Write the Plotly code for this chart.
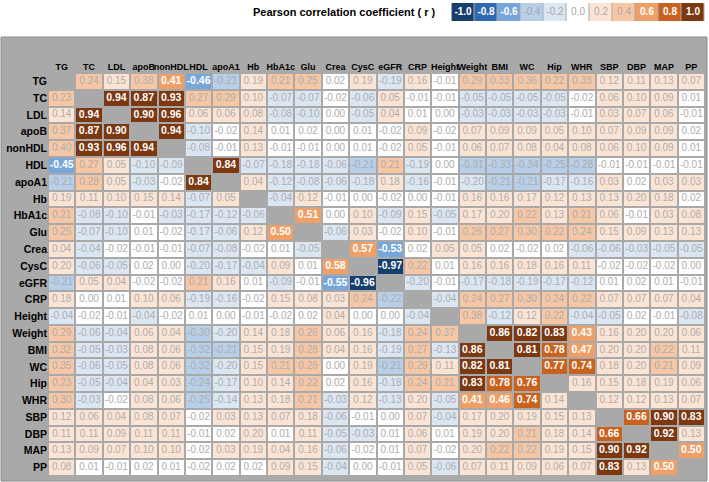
import math
import plotly.graph_objects as go

labels = ["TG", "TC", "LDL", "apoB", "nonHDL", "HDL", "apoA1", "Hb", "HbA1c", "Glu", "Crea", "CysC",
          "eGFR", "CRP", "Height", "Weight", "BMI", "WC", "Hip", "WHR", "SBP", "DBP", "MAP", "PP"]

# one row per variable, None on the diagonal
row_TG = [None, 0.24, 0.15, 0.38, 0.41, -0.46, -0.21, 0.19, 0.21, 0.25, 0.02, 0.19, -0.19, 0.16, -0.01, 0.29, 0.33, 0.36, 0.22, 0.33, 0.12, 0.11, 0.13, 0.07]
row_TC = [0.23, None, 0.94, 0.87, 0.93, 0.27, 0.29, 0.10, -0.07, -0.07, -0.02, -0.06, 0.05, -0.01, -0.01, -0.05, -0.05, -0.05, -0.05, -0.02, 0.06, 0.10, 0.09, 0.01]
row_LDL = [0.14, 0.94, None, 0.90, 0.96, 0.06, 0.06, 0.08, -0.08, -0.10, 0.00, -0.05, 0.04, 0.01, 0.00, -0.03, -0.03, -0.03, -0.03, -0.01, 0.03, 0.07, 0.06, -0.01]
row_apoB = [0.37, 0.87, 0.90, None, 0.94, -0.10, -0.02, 0.14, 0.01, 0.02, 0.00, 0.01, -0.02, 0.09, -0.02, 0.07, 0.09, 0.09, 0.05, 0.10, 0.07, 0.09, 0.09, 0.02]
row_nonHDL = [0.40, 0.93, 0.96, 0.94, None, -0.08, -0.01, 0.13, -0.01, -0.01, 0.00, 0.01, -0.02, 0.05, -0.01, 0.06, 0.07, 0.08, 0.04, 0.08, 0.06, 0.10, 0.09, 0.01]
row_HDL = [-0.45, 0.27, 0.05, -0.10, -0.09, None, 0.84, -0.07, -0.18, -0.18, -0.06, -0.21, 0.21, -0.19, 0.00, -0.31, -0.33, -0.34, -0.25, -0.28, -0.01, -0.01, -0.01, -0.01]
row_apoA1 = [-0.21, 0.28, 0.05, -0.03, -0.02, 0.84, None, 0.04, -0.12, -0.08, -0.06, -0.18, 0.18, -0.16, -0.01, -0.20, -0.21, -0.21, -0.17, -0.16, 0.03, 0.02, 0.03, 0.03]
row_Hb = [0.19, 0.11, 0.10, 0.15, 0.14, -0.07, 0.05, None, -0.04, 0.12, -0.01, 0.00, -0.02, 0.00, -0.01, 0.16, 0.16, 0.17, 0.12, 0.13, 0.13, 0.20, 0.18, 0.02]
row_HbA1c = [0.21, -0.08, -0.10, -0.01, -0.03, -0.17, -0.12, -0.06, None, 0.51, 0.00, 0.10, -0.09, 0.15, -0.05, 0.17, 0.20, 0.22, 0.13, 0.21, 0.06, -0.01, 0.03, 0.08]
row_Glu = [0.25, -0.07, -0.10, 0.01, -0.02, -0.17, -0.06, 0.12, 0.50, None, -0.06, 0.03, -0.02, 0.10, -0.01, 0.26, 0.27, 0.30, 0.22, 0.24, 0.15, 0.09, 0.13, 0.13]
row_Crea = [0.04, -0.04, -0.02, -0.01, -0.01, -0.07, -0.08, -0.02, 0.01, -0.05, None, 0.57, -0.53, 0.02, 0.05, 0.05, 0.02, -0.02, 0.02, -0.06, -0.06, -0.03, -0.05, -0.05]
row_CysC = [0.20, -0.06, -0.05, 0.02, 0.00, -0.20, -0.17, -0.04, 0.09, 0.01, 0.58, None, -0.97, 0.22, 0.01, 0.16, 0.16, 0.18, 0.16, 0.11, -0.02, -0.02, -0.02, 0.00]
row_eGFR = [-0.21, 0.05, 0.04, -0.02, -0.02, 0.21, 0.16, 0.01, -0.09, -0.01, -0.55, -0.96, None, -0.20, -0.01, -0.17, -0.18, -0.19, -0.17, -0.12, 0.01, 0.02, 0.01, -0.01]
row_CRP = [0.18, 0.00, 0.01, 0.10, 0.06, -0.19, -0.16, -0.02, 0.15, 0.08, 0.03, 0.24, -0.22, None, -0.04, 0.24, 0.27, 0.30, 0.24, 0.22, 0.07, 0.07, 0.07, 0.04]
row_Height = [-0.04, -0.02, -0.01, -0.04, -0.02, 0.01, 0.00, -0.01, -0.02, 0.02, 0.04, 0.00, 0.00, -0.04, None, 0.38, -0.12, 0.12, 0.22, -0.04, -0.05, 0.02, -0.01, -0.08]
row_Weight = [0.29, -0.06, -0.04, 0.06, 0.04, -0.30, -0.20, 0.14, 0.18, 0.26, 0.06, 0.16, -0.18, 0.24, 0.37, None, 0.86, 0.82, 0.83, 0.43, 0.16, 0.20, 0.20, 0.06]
row_BMI = [0.32, -0.05, -0.03, 0.08, 0.06, -0.32, -0.21, 0.15, 0.19, 0.28, 0.04, 0.16, -0.19, 0.27, -0.13, 0.86, None, 0.81, 0.78, 0.47, 0.20, 0.20, 0.22, 0.11]
row_WC = [0.35, -0.06, -0.05, 0.08, 0.06, -0.32, -0.20, 0.15, 0.21, 0.29, 0.00, 0.19, -0.21, 0.29, 0.11, 0.82, 0.81, None, 0.77, 0.74, 0.18, 0.20, 0.21, 0.09]
row_Hip = [0.23, -0.05, -0.04, 0.04, 0.03, -0.24, -0.17, 0.10, 0.14, 0.22, 0.02, 0.16, -0.18, 0.24, 0.21, 0.83, 0.78, 0.76, None, 0.16, 0.15, 0.18, 0.19, 0.06]
row_WHR = [0.30, -0.03, -0.02, 0.08, 0.06, -0.25, -0.14, 0.13, 0.18, 0.21, -0.03, 0.12, -0.13, 0.20, -0.05, 0.41, 0.46, 0.74, 0.14, None, 0.12, 0.12, 0.13, 0.07]
row_SBP = [0.12, 0.06, 0.04, 0.08, 0.07, -0.02, 0.03, 0.13, 0.07, 0.18, -0.06, -0.01, 0.00, 0.07, -0.04, 0.17, 0.20, 0.19, 0.15, 0.13, None, 0.66, 0.90, 0.83]
row_DBP = [0.11, 0.11, 0.09, 0.11, 0.11, -0.01, 0.02, 0.20, 0.01, 0.11, -0.05, -0.03, 0.01, 0.06, 0.01, 0.19, 0.20, 0.21, 0.18, 0.14, 0.66, None, 0.92, 0.13]
row_MAP = [0.13, 0.09, 0.07, 0.10, 0.10, -0.02, 0.03, 0.19, 0.04, 0.16, -0.06, -0.02, 0.01, 0.07, -0.02, 0.20, 0.22, 0.22, 0.19, 0.15, 0.90, 0.92, None, 0.50]
row_PP = [0.08, 0.01, -0.01, 0.02, 0.01, -0.02, 0.02, 0.02, 0.09, 0.15, -0.04, 0.00, -0.01, 0.05, -0.06, 0.07, 0.11, 0.09, 0.06, 0.07, 0.83, 0.13, 0.50, None]

legend_ticks = [-1.0, -0.8, -0.6, -0.4, -0.2, 0.0, 0.2, 0.4, 0.6, 0.8, 1.0]
legend_colors = ["#173f6e", "#2f69b0", "#77a7da", "#b7cfe9", "#dbe6f3", "#ffffff",
                 "#fce4d4", "#f7c7a5", "#eea068", "#c9621f", "#7c3811"]

matrix = [row_TG, row_TC, row_LDL, row_apoB, row_nonHDL, row_HDL, row_apoA1, row_Hb, row_HbA1c,
          row_Glu, row_Crea, row_CysC, row_eGFR, row_CRP, row_Height, row_Weight, row_BMI, row_WC,
          row_Hip, row_WHR, row_SBP, row_DBP, row_MAP, row_PP]


def bin_index(v):
    if v is None:
        return None
    if abs(v) <= 0.02:
        return 5
    k = min(5, math.ceil(round(abs(v) / 0.2, 6)))
    return 5 + k if v > 0 else 5 - k


# stepped colorscale over bin indices 0..10
n = len(legend_colors)
colorscale = []
for i, c in enumerate(legend_colors):
    colorscale.append([i / n, c])
    colorscale.append([(i + 1) / n, c])

z = [[bin_index(v) for v in row] for row in matrix]

PANEL = "#a9a9a9"
W, H = 709, 482
L, R, T, B = 48, 4, 3, 6
pw, ph = W - L - R, H - T - B
m = len(labels)


def px_x(x):
    return (x - L) / pw


def px_y(y):
    return (H - B - y) / ph


fig = go.Figure()

fig.add_trace(go.Heatmap(
    x=labels, y=labels, z=z, zmin=-0.5, zmax=n - 0.5,
    colorscale=colorscale, showscale=False, xgap=2, ygap=2,
    hoverinfo="skip",
))

# cell values: strong ones white/bold, weak ones light gray
sx, sy, st, wx, wy, wt = [], [], [], [], [], []
for i, row in enumerate(matrix):
    for j, v in enumerate(row):
        if v is None:
            continue
        if abs(v) > 0.40:
            sx.append(labels[j]); sy.append(labels[i]); st.append(f"{v:.2f}")
        else:
            wx.append(labels[j]); wy.append(labels[i]); wt.append(f"{v:.2f}")

cell_font = "Liberation Sans, Arial"
fig.add_trace(go.Scatter(
    x=wx, y=wy, text=wt, mode="text", hoverinfo="skip", showlegend=False,
    textfont=dict(family=cell_font, size=10, color="#adadad"),
))
fig.add_trace(go.Scatter(
    x=sx, y=sy, text=st, mode="text", hoverinfo="skip", showlegend=False,
    textfont=dict(family=cell_font, size=10.5, color="white", weight="bold"),
))

# legend strip at the top
leg_labels = [f"{t:.1f}" for t in legend_ticks]
fig.add_trace(go.Heatmap(
    x=leg_labels, y=["r"], z=[list(range(n))], zmin=-0.5, zmax=n - 0.5,
    colorscale=colorscale, showscale=False, xgap=1, hoverinfo="skip",
    xaxis="x2", yaxis="y2",
))
leg_dark = [abs(t) >= 0.6 for t in legend_ticks]
fig.add_trace(go.Scatter(
    x=leg_labels, y=["r"] * n, text=leg_labels, mode="text", hoverinfo="skip",
    showlegend=False, xaxis="x2", yaxis="y2",
    textfont=dict(family="Liberation Sans, Arial", size=10,
                  color=["white" if d else "#a8a8a8" for d in leg_dark],
                  weight=["bold" if d else "normal" for d in leg_dark]),
))

row_font = dict(family="Liberation Sans, Arial", size=10.5, color="black", weight="bold")
col_font = dict(family="Liberation Sans, Arial", size=9, color="black", weight="bold")
fig.update_layout(
    template="none",
    width=W, height=H, autosize=False,
    margin=dict(l=L, r=R, t=T, b=B, autoexpand=False),
    paper_bgcolor="white",
    plot_bgcolor=PANEL,
    showlegend=False,
    xaxis=dict(side="top", type="category", categoryorder="array", categoryarray=labels,
               range=[-0.5, m - 0.5], fixedrange=True,
               showgrid=False, zeroline=False, showline=False, ticks="", tickfont=col_font,
               tickangle=0, automargin=False, domain=[0, 1], anchor="y"),
    yaxis=dict(type="category", categoryorder="array", categoryarray=labels,
               range=[m - 0.5, -0.5], fixedrange=True,
               showgrid=False, zeroline=False, showline=False, ticks="",
               tickfont=row_font, automargin=False, domain=[0, px_y(73)], anchor="x"),
    xaxis2=dict(domain=[px_x(451.5), px_x(704.5)], anchor="y2", visible=False,
                type="category", range=[-0.5, n - 0.5], automargin=False),
    yaxis2=dict(domain=[px_y(21), px_y(3)], anchor="x2", visible=False,
                type="category", range=[-0.5, 0.5], automargin=False),
    shapes=[dict(type="rect", xref="paper", yref="paper", layer="below",
                 x0=px_x(1), x1=px_x(707), y0=px_y(481), y1=px_y(37),
                 fillcolor=PANEL, line=dict(color="#8c8c8c", width=1))],
    annotations=[dict(text="<b>Pearson correlation coefficient ( r )</b>",
                      xref="paper", yref="paper", x=px_x(437), y=px_y(12),
                      xanchor="right", yanchor="middle", showarrow=False,
                      font=dict(family="Liberation Sans, Arial", size=11, color="black"))],
)

fig.write_html("out.html", config={"displayModeBar": False},
               post_script="document.body.style.margin='0';")
